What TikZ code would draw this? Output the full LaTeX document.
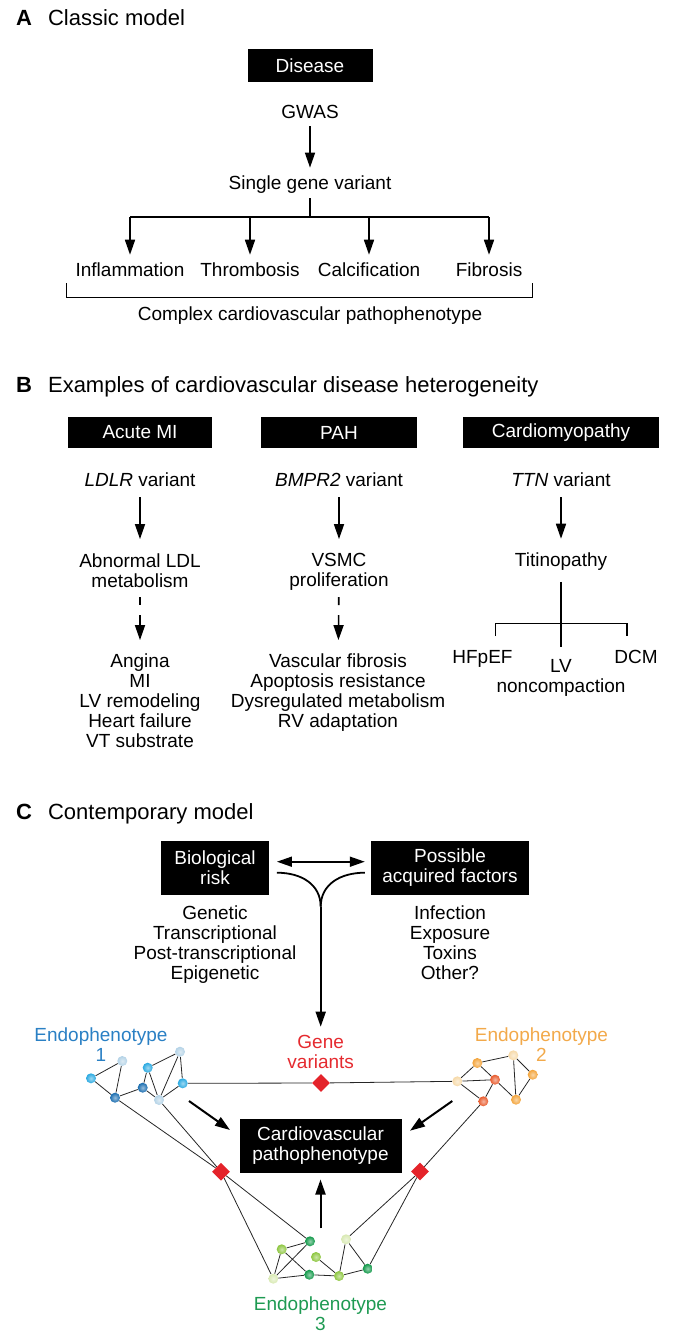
\documentclass[tikz,border=0pt]{standalone}
\usepackage{fontspec}
\setmainfont{Liberation Sans}
\usetikzlibrary{arrows.meta,shapes.geometric,backgrounds}

\definecolor{endoblue}{HTML}{2A80C4}
\definecolor{endoorange}{HTML}{F2A94A}
\definecolor{endogreen}{HTML}{1E9A52}
\definecolor{genered}{HTML}{E52A2F}
\definecolor{snpred}{HTML}{E4232A}
\definecolor{bluecyan}{HTML}{29A9E1}
\definecolor{bluepale}{HTML}{B3D2E6}
\definecolor{bluedark}{HTML}{1A6DB0}
\definecolor{orangemid}{HTML}{F3A43B}
\definecolor{orangepale}{HTML}{F6D9A8}
\definecolor{orangered}{HTML}{E85A2C}
\definecolor{greenlight}{HTML}{8DC63F}
\definecolor{greenpale}{HTML}{D8E9B2}
\definecolor{greendark}{HTML}{109848}

\begin{document}
\begin{tikzpicture}[x=1pt, y=-1pt, font=\fontsize{19}{20}\selectfont]
    \tikzstyle{txt} = [inner sep=0pt, align=center]
    \tikzstyle{blk} = [fill=black, text=white, inner sep=0pt, align=center]
    \tikzstyle{hd} = [inner sep=0pt, anchor=base west, font=\fontsize{22}{24}\selectfont]
    \tikzstyle{arr} = [-{Triangle[length=15pt,width=10pt]}, line width=1.6pt]
    \tikzstyle{link} = [line width=0.8pt, black!85]
    \tikzstyle{snp} = [diamond, fill=snpred, minimum width=18pt, minimum height=18pt, inner sep=0pt]
    \tikzstyle{sphere} = [circle, minimum size=10pt, inner sep=0pt]

    \useasboundingbox (0,0) rectangle (683,1338);

    % A 经典模型
    \node[hd] (hdA) at (16,26) {\textbf{A}\hspace{16pt}Classic model};
    \node[blk, minimum width=125pt, minimum height=33pt] (disease) at (310,65.5) {Disease};
    \node[txt, anchor=base] (gwas) at (310,118.3) {GWAS};
    \node[txt, anchor=base] (single) at (310,189.3) {Single gene variant};
    \node[txt, anchor=base] (infl) at (130,276.7) {Inflammation};
    \node[txt, anchor=base] (thromb) at (250,276.7) {Thrombosis};
    \node[txt, anchor=base] (calc) at (369,276.7) {Calcification};
    \node[txt, anchor=base] (fibA) at (489,276.7) {Fibrosis};
    \node[txt, anchor=base] (complex) at (310,320.3) {Complex cardiovascular pathophenotype};
    \coordinate (split) at (310,217);
    \coordinate (j1) at (130,217);
    \coordinate (j2) at (250,217);
    \coordinate (j3) at (369,217);
    \coordinate (j4) at (489,217);

    \draw[arr, shorten <=7.7pt, shorten >=7.7pt] (gwas) -- (single);
    \draw[line width=1.6pt, shorten <=4.7pt] (single) -- (split);
    \draw[line width=1.6pt] (j1) -- (j4);
    \draw[arr, shorten >=8pt] (j1) -- (infl);
    \draw[arr, shorten >=8pt] (j2) -- (thromb);
    \draw[arr, shorten >=8pt] (j3) -- (calc);
    \draw[arr, shorten >=8pt] (j4) -- (fibA);
    \draw[line width=1pt] (66,283) -- (66,297) -- (532,297) -- (532,283);

    % B 异质性示例
    \node[hd] (hdB) at (16,392.5) {\textbf{B}\hspace{16pt}Examples of cardiovascular disease heterogeneity};
    \node[blk, minimum width=144pt, minimum height=31pt] (mi) at (140,432.5) {Acute MI};
    \node[blk, minimum width=156pt, minimum height=31pt] (pah) at (339,432.5) {PAH};
    \node[blk, minimum width=196pt, minimum height=31pt] (cmp) at (561,432.5) {Cardiomyopathy};
    \node[txt, anchor=base] (ldlr) at (140,486) {\textit{LDLR} variant};
    \node[txt, anchor=base] (bmpr) at (339,486) {\textit{BMPR2} variant};
    \node[txt, anchor=base] (ttn) at (561,486) {\textit{TTN} variant};
    \node[txt, anchor=north] (ldl) at (140,553.1) {Abnormal LDL\\metabolism};
    \node[txt, anchor=north] (vsmc) at (339,553.1) {VSMC\\proliferation};
    \node[txt, anchor=base] (titin) at (561,566.7) {Titinopathy};
    \node[txt, anchor=north] (angina) at (140,653.1) {Angina\\MI\\LV remodeling\\Heart failure\\VT substrate};
    \node[txt, anchor=north] (vfib) at (338,653.1) {Vascular fibrosis\\Apoptosis resistance\\Dysregulated metabolism\\RV adaptation};
    \node[txt, anchor=base] (hfpef) at (482.5,663.3) {HFpEF};
    \node[txt, anchor=base] (dcm) at (636,663.3) {DCM};
    \node[txt, anchor=north] (lvnc) at (561,659.7) {LV\\noncompaction};
    \coordinate (tstem) at (561,646.7);

    \draw[arr, shorten <=11pt, shorten >=14pt] (ldlr) -- (ldl);
    \draw[arr, shorten <=11pt, shorten >=14pt] (bmpr) -- (vsmc);
    \draw[arr, shorten <=11pt, shorten >=14pt] (ttn) -- (titin);
    \draw[arr, dash pattern=on 8pt off 10pt on 40pt, shorten <=10pt, shorten >=13pt] (ldl) -- (angina);
    \draw[arr, dash pattern=on 8pt off 10pt on 40pt, shorten <=6.3pt, shorten >=13pt] (vsmc) -- (vfib);
    \draw[line width=1.6pt, shorten <=11pt] (titin) -- (tstem);
    \draw[line width=1.6pt] (495.6,636) -- (495.6,623.3) -- (627,623.3) -- (627,636);

    % C 当代模型
    \node[hd] (hdC) at (16,819) {\textbf{C}\hspace{16pt}Contemporary model};
    \node[blk, minimum width=108pt, minimum height=54pt] (bio) at (215,868) {Biological\\risk};
    \node[blk, minimum width=158pt, minimum height=54pt] (acq) at (450,868) {Possible\\acquired factors};
    \node[txt, anchor=north] (genetic) at (215,905.7) {Genetic\\Transcriptional\\Post-transcriptional\\Epigenetic};
    \node[txt, anchor=north] (infect) at (450,905.7) {Infection\\Exposure\\Toxins\\Other?};
    \node[txt, anchor=north, text=genered] (gene) at (320.7,1034.7) {Gene\\variants};
    \node[txt, anchor=north, text=endoblue] (endo1) at (101,1027.4) {Endophenotype\\1};
    \node[txt, anchor=north, text=endoorange] (endo2) at (541.5,1027.4) {Endophenotype\\2};
    \node[txt, anchor=north, text=endogreen] (endo3) at (320.5,1296.4) {Endophenotype\\3};
    \node[blk, minimum width=162pt, minimum height=53.4pt] (cvp) at (320.5,1146) {Cardiovascular\\pathophenotype};
    \coordinate (merge) at (320.7,906.7);

    \draw[{Triangle[length=15pt,width=10pt]}-{Triangle[length=15pt,width=10pt]}, line width=1.6pt, shorten <=7.7pt, shorten >=6pt] ([yshift=6.3pt]bio.east) -- ([yshift=6.3pt]acq.west);
    \draw[line width=1.8pt] ([xshift=7.7pt,yshift=-4.7pt]bio.east) .. controls +(25,0) and +(0,-22) .. (merge);
    \draw[line width=1.8pt] ([xshift=-6pt,yshift=-4.7pt]acq.west) .. controls +(-25,0) and +(0,-22) .. (merge);
    \draw[arr, line width=1.8pt, shorten >=8pt] (merge) -- (gene);

    % 网络节点
    \node[snp] (snpM) at (321,1083) {};
    \node[snp] (snpL) at (221,1171.7) {};
    \node[snp] (snpR) at (420,1171.5) {};
    \foreach \n/\x/\y/\c in {b1/91/1078.3/bluecyan, b2/122.3/1061/bluepale, b3/115/1097.7/bluedark,
        b4/142.7/1087.7/bluedark, b5/147.7/1067.7/bluecyan, b6/159/1100/bluepale,
        b7/180/1051.7/bluepale, b8/182.7/1083.3/bluecyan,
        o1/457.3/1081.3/orangepale, o2/477.3/1063/orangemid, o3/495/1079.7/orangered,
        o4/483.3/1101.3/orangered, o5/513.3/1055.3/orangepale, o6/532.7/1074.7/orangemid,
        o7/516/1099.7/orangemid,
        g1/273.3/1278.7/greenpale, g2/281.7/1249.3/greenlight, g3/310/1241.3/greendark,
        g4/316/1257/greenlight, g5/309.3/1274.7/greendark, g6/339/1276/greenlight,
        g7/346/1239.3/greenpale, g8/367.7/1268.7/greendark}
        \node[sphere, inner color=\c!45!white, outer color=\c] (\n) at (\x,\y) {};

    % 连线
    \begin{scope}[on background layer]
        \foreach \a/\b in {b1/b2, b1/b3, b2/b3, b3/b4, b4/b5, b4/b6, b5/b6, b5/b7, b6/b7, b6/b8, b7/b8,
            o1/o2, o1/o3, o1/o4, o2/o3, o2/o5, o3/o4, o3/o7, o5/o7, o5/o6, o6/o7,
            g1/g2, g1/g3, g2/g3, g2/g5, g1/g5, g4/g6, g5/g6, g6/g7, g6/g8, g7/g8,
            b8/snpM, snpM/o1, b3/snpL, b6/snpL, snpL/g1, snpL/g3, o4/snpR, snpR/g7, snpR/g8}
            \draw[link] (\a) -- (\b);
    \end{scope}

    % 指向表型的箭头
    \coordinate (p1a) at (189,1101);
    \coordinate (p1b) at (230,1130);
    \coordinate (p2a) at (452.3,1101);
    \coordinate (p2b) at (410,1130.7);
    \coordinate (p3a) at (320.5,1228.3);
    \draw[arr, line width=2pt] (p1a) -- (p1b);
    \draw[arr, line width=2pt] (p2a) -- (p2b);
    \draw[arr, line width=2pt, shorten >=6.6pt] (p3a) -- (cvp);
\end{tikzpicture}
\end{document}
